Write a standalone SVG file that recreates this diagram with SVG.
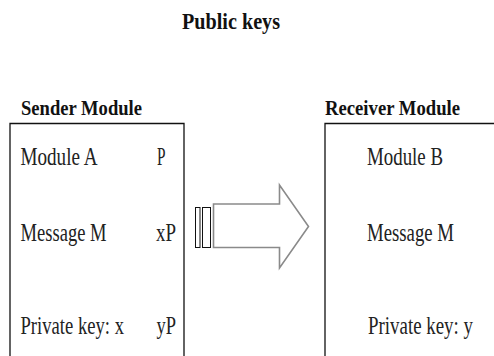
<svg xmlns="http://www.w3.org/2000/svg" width="494" height="356" viewBox="0 0 494 356">
<style>
  .title { font-size: 24px; font-weight: bold; fill: #111; }
  .head { font-size: 21px; font-weight: bold; fill: #111; }
  .lbl { font-size: 26px; fill: #222; }
  .box { fill: none; stroke: #111; stroke-width: 1.3; }
  .arrow { fill: #fff; stroke: #8a8a8a; stroke-width: 1.6; stroke-linejoin: miter; }
  .bar { fill: #fff; stroke: #111; stroke-width: 1; }
</style>
<rect width="494" height="356" fill="#fff"/>
<g id="title" font-family="Liberation Serif">
  <text class="title" x="182" y="29" textLength="98" lengthAdjust="spacingAndGlyphs">Public keys</text>
</g>
<g id="sender" font-family="Liberation Serif">
  <text class="head" x="21" y="115" textLength="121" lengthAdjust="spacingAndGlyphs">Sender Module</text>
  <path class="box" d="M10,360 V123.5 H184 V360"/>
  <text class="lbl" x="20.5" y="165" textLength="77" lengthAdjust="spacingAndGlyphs">Module A</text>
  <text class="lbl" x="157" y="165" textLength="8.5" lengthAdjust="spacingAndGlyphs">P</text>
  <text class="lbl" x="20.5" y="240.5" textLength="86" lengthAdjust="spacingAndGlyphs">Message M</text>
  <text class="lbl" x="156" y="240.5" textLength="20" lengthAdjust="spacingAndGlyphs">xP</text>
  <text class="lbl" x="20.5" y="333.5" textLength="103.5" lengthAdjust="spacingAndGlyphs">Private key: x</text>
  <text class="lbl" x="156.5" y="333.5" textLength="19.5" lengthAdjust="spacingAndGlyphs">yP</text>
</g>
<g id="receiver" font-family="Liberation Serif">
  <text class="head" x="325" y="115" textLength="135" lengthAdjust="spacingAndGlyphs">Receiver Module</text>
  <path class="box" d="M325,360 V123.5 H500"/>
  <text class="lbl" x="367" y="165" textLength="76" lengthAdjust="spacingAndGlyphs">Module B</text>
  <text class="lbl" x="367" y="240.5" textLength="87" lengthAdjust="spacingAndGlyphs">Message M</text>
  <text class="lbl" x="368" y="333.5" textLength="105" lengthAdjust="spacingAndGlyphs">Private key: y</text>
</g>
<g id="connectors">
  <rect class="bar" x="195.5" y="207.5" width="4.5" height="40"/>
  <rect class="bar" x="202.5" y="207.5" width="8" height="40"/>
  <polygon class="arrow" points="213.5,204 279.5,204 279.5,185 308.5,226.5 279.5,268 279.5,247.5 213.5,247.5"/>
</g>
</svg>
